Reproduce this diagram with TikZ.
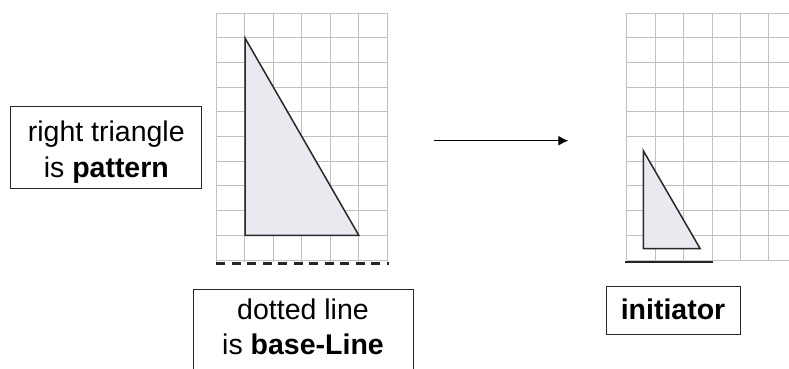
\documentclass[tikz,border=0pt]{standalone}
\usepackage{fontspec}
\setmainfont{Liberation Sans}
\usetikzlibrary{arrows.meta}
\definecolor{gridgray}{RGB}{192,192,192}
\definecolor{trifill}{RGB}{236,232,240}
\definecolor{edge}{RGB}{40,40,40}
\tikzset{
  gridline/.style={draw=gridgray, line width=1pt},
  tri/.style={draw=edge, fill=trifill, line width=1.5pt, line join=miter},
  labelbox/.style={draw=edge, line width=1pt, rectangle, inner sep=0pt},
  txt/.style={anchor=base, inner sep=0pt, font=\fontsize{28.5}{36}\selectfont},
  baseline dash/.style={draw=black!85, line width=3pt, dash pattern=on 9pt off 6.5pt},
  baseline solid/.style={draw=black!85, line width=1.8pt},
  flow/.style={draw=black, line width=1.3pt, -{Latex[length=10pt,width=10pt]}}
}
\begin{document}
\begin{tikzpicture}[x=1pt,y=-1pt]
\useasboundingbox (0,0) rectangle (789,368);
\clip (0,0) rectangle (789,368);
\fill[white] (0,0) rectangle (789,368);
% left grid
\foreach \i in {0,...,6} { \draw[gridline] (216.5+28.45*\i,13.3) -- (216.5+28.45*\i,262); }
\foreach \j in {0,...,10} { \draw[gridline] (216.5,13.3+24.67*\j) -- (387.2,13.3+24.67*\j); }
% right grid
\foreach \i in {0,...,5} { \draw[gridline] (626.7+28.45*\i,13.3) -- (626.7+28.45*\i,260); }
\foreach \j in {0,...,10} { \draw[gridline] (626.7,13.3+24.67*\j) -- (795,13.3+24.67*\j); }
% triangles
\coordinate (pa) at (245,38);
\coordinate (pb) at (245,235.3);
\coordinate (pc) at (358.8,235.3);
\draw[tri] (pa) -- (pb) -- (pc) -- cycle;
\coordinate (ia) at (643.3,150.7);
\coordinate (ib) at (643.3,248.7);
\coordinate (ic) at (700.2,248.7);
\draw[tri] (ia) -- (ib) -- (ic) -- cycle;
% base lines
\coordinate (dl1) at (216,263);
\coordinate (dl2) at (389,263);
\draw[baseline dash] (dl1) -- (dl2);
\coordinate (sl1) at (625,262.3);
\coordinate (sl2) at (713,262.3);
\draw[baseline solid] (sl1) -- (sl2);
% arrow
\coordinate (a1) at (434,140.7);
\coordinate (a2) at (568.3,140.7);
\draw[flow] (a1) -- (a2);
% box 1
\node[labelbox, minimum width=190.7pt, minimum height=82.3pt] (box1) at (106.3,147.2) {};
\node[txt] (t1a) at (106.3,141) {right triangle};
\node[txt] (t1b) at (106.3,177) {is \textbf{pattern}};
% box 2
\node[labelbox, minimum width=219.4pt, minimum height=100pt, anchor=north west] (box2) at (193.3,288.5) {};
\node[txt] (t2a) at (303,319) {dotted line};
\node[txt] (t2b) at (303,354) {is \textbf{base-Line}};
% box 3
\node[labelbox, minimum width=134pt, minimum height=47.3pt] (box3) at (673,310.4) {};
\node[txt] (t3) at (673,319.3) {\textbf{initiator}};
\end{tikzpicture}
\end{document}
